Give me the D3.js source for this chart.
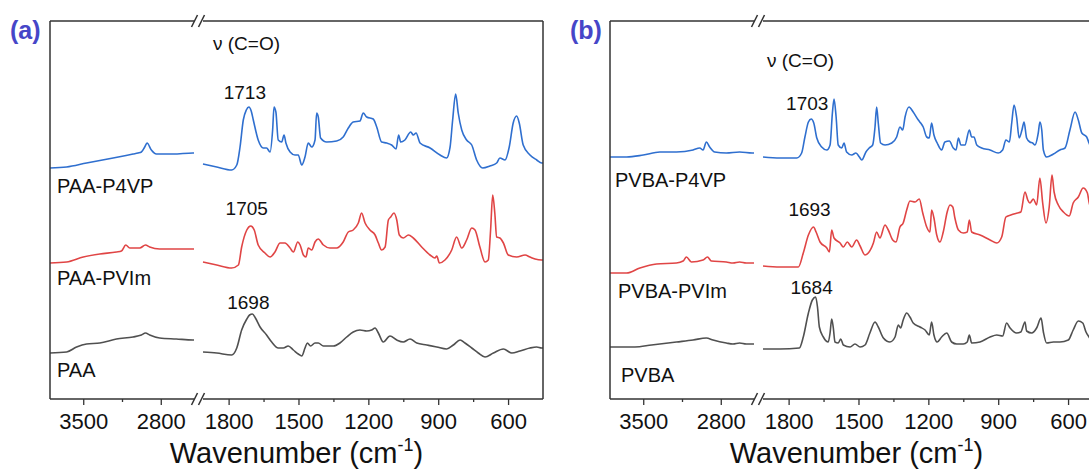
<!DOCTYPE html>
<html>
<head>
<meta charset="utf-8">
<script src="https://cdn.jsdelivr.net/npm/d3@7"></script>
<style>
  html, body { margin: 0; padding: 0; background: #fff; }
  svg { display: block; font-family: "Liberation Sans", Arial, sans-serif; }
</style>
</head>
<body>
<svg id="chart" width="1089" height="471"></svg>
<script>
// ---- axis ticks (cm^-1) ----
const highTicks = [3500, 2800];
const highMinor = [3150];
const lowTicks = [1800, 1500, 1200, 900, 600];
const lowMinor = [1650, 1350, 1050, 750];

// ---- panel (a): poly(acrylic acid) blends, absorbance (a.u., offset) ----
const namesA = ["PAA-P4VP", "PAA-PVIm", "PAA"];
const nameWnA = [3737, 3737, 3737];
const nameVA = [2.06, 1.14, 0.22];
const peakWnA = [1713, 1705, 1698];
const peakLabelVA = [3.00, 1.84, 0.90];

const paaP4vp = [
  [3800, 2.31], [3650, 2.32], [3470, 2.36], [3230, 2.41], [3050, 2.45], [3005, 2.46], [2975, 2.47],
  [2945, 2.52], [2924, 2.56], [2885, 2.49], [2840, 2.45], [2690, 2.45], [2510, 2.46], [2500, 2.46],
  [1910, 2.35], [1851, 2.32], [1787, 2.29], [1765, 2.34], [1751, 2.52], [1737, 2.79], [1724, 2.89],
  [1713, 2.92], [1703, 2.88], [1694, 2.79], [1673, 2.59], [1651, 2.51], [1637, 2.51], [1622, 2.47],
  [1611, 2.69], [1605, 2.92], [1597, 2.87], [1587, 2.59], [1572, 2.57], [1562, 2.64], [1554, 2.56],
  [1536, 2.47], [1515, 2.44], [1501, 2.44], [1486, 2.34], [1472, 2.42], [1458, 2.56], [1443, 2.52],
  [1429, 2.59], [1422, 2.86], [1415, 2.82], [1405, 2.61], [1379, 2.57], [1336, 2.58], [1308, 2.62],
  [1286, 2.71], [1265, 2.77], [1236, 2.78], [1222, 2.86], [1207, 2.82], [1179, 2.80], [1164, 2.72],
  [1143, 2.57], [1121, 2.56], [1100, 2.54], [1081, 2.50], [1070, 2.64], [1061, 2.57], [1043, 2.59],
  [1018, 2.67], [1007, 2.64], [995, 2.66], [978, 2.56], [935, 2.51], [892, 2.44], [864, 2.41],
  [849, 2.52], [838, 2.79], [825, 3.05], [814, 2.86], [799, 2.69], [778, 2.59], [756, 2.54],
  [735, 2.39], [709, 2.31], [678, 2.33], [649, 2.36], [635, 2.41], [613, 2.39], [595, 2.52],
  [578, 2.76], [563, 2.83], [552, 2.76], [535, 2.54], [506, 2.44], [477, 2.39], [456, 2.36], [450, 2.36]
];

const paaPvim = [
  [3800, 1.36], [3650, 1.37], [3500, 1.42], [3350, 1.45], [3200, 1.47], [3155, 1.48], [3116, 1.54],
  [3080, 1.51], [2990, 1.51], [2938, 1.54], [2900, 1.52], [2810, 1.50], [2660, 1.50], [2510, 1.50], [2500, 1.50],
  [1910, 1.37], [1851, 1.34], [1787, 1.31], [1758, 1.34], [1744, 1.52], [1722, 1.69], [1705, 1.73],
  [1690, 1.69], [1673, 1.54], [1644, 1.46], [1622, 1.42], [1601, 1.47], [1579, 1.56], [1558, 1.56],
  [1536, 1.51], [1522, 1.47], [1503, 1.57], [1493, 1.54], [1479, 1.44], [1468, 1.42], [1458, 1.51],
  [1443, 1.49], [1429, 1.57], [1415, 1.60], [1393, 1.54], [1365, 1.51], [1336, 1.51], [1308, 1.57],
  [1286, 1.67], [1265, 1.69], [1243, 1.76], [1229, 1.86], [1214, 1.76], [1193, 1.69], [1171, 1.64],
  [1157, 1.56], [1143, 1.49], [1128, 1.52], [1114, 1.79], [1104, 1.82], [1090, 1.86], [1078, 1.79],
  [1067, 1.64], [1050, 1.61], [1028, 1.64], [1007, 1.61], [971, 1.52], [935, 1.44], [914, 1.41],
  [906, 1.43], [895, 1.36], [871, 1.39], [842, 1.49], [821, 1.62], [799, 1.51], [778, 1.59],
  [756, 1.71], [742, 1.69], [721, 1.52], [699, 1.37], [685, 1.39], [675, 1.69], [666, 2.04],
  [657, 1.86], [649, 1.62], [635, 1.61], [620, 1.56], [599, 1.44], [563, 1.42], [527, 1.44],
  [506, 1.42], [484, 1.40], [456, 1.39], [450, 1.39]
];

const paa = [
  [3800, 0.46], [3650, 0.47], [3560, 0.52], [3470, 0.55], [3350, 0.56], [3200, 0.60], [3050, 0.62],
  [2975, 0.64], [2938, 0.66], [2900, 0.64], [2810, 0.61], [2660, 0.60], [2510, 0.59], [2500, 0.59],
  [1910, 0.47], [1851, 0.46], [1787, 0.44], [1765, 0.51], [1744, 0.69], [1722, 0.80], [1710, 0.84],
  [1698, 0.85], [1685, 0.81], [1665, 0.72], [1637, 0.64], [1615, 0.57], [1587, 0.51], [1565, 0.51],
  [1544, 0.53], [1522, 0.49], [1501, 0.45], [1486, 0.43], [1472, 0.51], [1462, 0.56], [1448, 0.53],
  [1429, 0.56], [1415, 0.56], [1393, 0.53], [1350, 0.53], [1322, 0.56], [1293, 0.62], [1265, 0.67],
  [1236, 0.69], [1207, 0.68], [1186, 0.69], [1171, 0.71], [1157, 0.66], [1136, 0.57], [1107, 0.63],
  [1078, 0.59], [1050, 0.57], [1021, 0.60], [992, 0.56], [949, 0.54], [906, 0.52], [864, 0.50],
  [835, 0.54], [806, 0.59], [785, 0.56], [756, 0.51], [728, 0.46], [699, 0.42], [663, 0.46],
  [620, 0.50], [584, 0.46], [549, 0.48], [506, 0.51], [477, 0.52], [456, 0.51], [450, 0.51]
];

// ---- panel (b): poly(vinylbenzoic acid) blends ----
const namesB = ["PVBA-P4VP", "PVBA-PVIm", "PVBA"];
const nameWnB = [3755, 3728, 3701];
const nameVB = [2.12, 1.01, 0.17];
const peakWnB = [1703, 1693, 1684];
const peakLabelVB = [2.89, 1.83, 1.05];

const pvbaP4vp = [
  [3800, 2.42], [3650, 2.42], [3500, 2.44], [3350, 2.47], [3200, 2.47], [3050, 2.49], [2990, 2.51],
  [2960, 2.49], [2930, 2.57], [2900, 2.52], [2855, 2.47], [2750, 2.46], [2630, 2.47], [2516, 2.46], [2500, 2.46],
  [1910, 2.42], [1837, 2.41], [1765, 2.41], [1744, 2.46], [1730, 2.62], [1715, 2.77], [1703, 2.80],
  [1692, 2.76], [1679, 2.61], [1658, 2.52], [1636, 2.49], [1622, 2.54], [1612, 2.86], [1605, 3.00],
  [1596, 2.82], [1587, 2.54], [1572, 2.51], [1562, 2.56], [1551, 2.47], [1529, 2.44], [1511, 2.46],
  [1496, 2.42], [1486, 2.39], [1468, 2.47], [1454, 2.51], [1439, 2.54], [1429, 2.72], [1422, 2.92],
  [1415, 2.76], [1405, 2.56], [1386, 2.54], [1357, 2.56], [1336, 2.62], [1322, 2.72], [1310, 2.69],
  [1300, 2.82], [1283, 2.92], [1265, 2.87], [1243, 2.79], [1233, 2.76], [1222, 2.72], [1207, 2.62],
  [1196, 2.61], [1186, 2.76], [1176, 2.64], [1162, 2.56], [1143, 2.49], [1129, 2.57], [1110, 2.58],
  [1093, 2.51], [1081, 2.49], [1071, 2.61], [1060, 2.54], [1043, 2.54], [1024, 2.69], [1014, 2.62],
  [1004, 2.62], [992, 2.54], [971, 2.51], [935, 2.49], [900, 2.46], [881, 2.49], [867, 2.59],
  [852, 2.57], [842, 2.76], [832, 2.94], [821, 2.82], [810, 2.61], [798, 2.69], [789, 2.77],
  [778, 2.61], [764, 2.57], [752, 2.56], [742, 2.54], [728, 2.66], [721, 2.77], [713, 2.69],
  [706, 2.49], [692, 2.42], [663, 2.45], [635, 2.49], [613, 2.51], [592, 2.69], [570, 2.87],
  [556, 2.79], [541, 2.66], [520, 2.62], [510, 2.56], [495, 2.48], [470, 2.44], [450, 2.43]
];

const pvbaPvim = [
  [3800, 1.26], [3650, 1.26], [3530, 1.31], [3380, 1.35], [3200, 1.36], [3140, 1.38], [3110, 1.42],
  [3065, 1.37], [2960, 1.39], [2920, 1.42], [2885, 1.38], [2750, 1.37], [2690, 1.36], [2630, 1.37],
  [2570, 1.36], [2510, 1.36], [2500, 1.36],
  [1910, 1.33], [1837, 1.32], [1758, 1.32], [1737, 1.46], [1715, 1.64], [1693, 1.72], [1682, 1.67],
  [1665, 1.57], [1636, 1.51], [1625, 1.47], [1615, 1.69], [1605, 1.61], [1579, 1.56], [1565, 1.52],
  [1548, 1.57], [1529, 1.52], [1508, 1.59], [1493, 1.53], [1472, 1.44], [1458, 1.46], [1436, 1.56],
  [1422, 1.67], [1408, 1.61], [1386, 1.74], [1372, 1.69], [1353, 1.59], [1339, 1.57], [1322, 1.72],
  [1308, 1.76], [1293, 1.89], [1279, 1.98], [1257, 1.97], [1239, 2.00], [1224, 1.86], [1207, 1.72],
  [1193, 1.67], [1186, 1.89], [1176, 1.81], [1164, 1.64], [1150, 1.57], [1136, 1.67], [1119, 1.87],
  [1107, 1.94], [1095, 1.92], [1086, 1.81], [1071, 1.69], [1050, 1.66], [1033, 1.67], [1024, 1.79],
  [1014, 1.67], [978, 1.64], [935, 1.59], [906, 1.56], [885, 1.62], [867, 1.82], [846, 1.84],
  [818, 1.86], [803, 1.87], [785, 2.07], [773, 1.99], [764, 1.96], [749, 2.00], [735, 1.94],
  [721, 2.21], [709, 1.96], [695, 1.76], [681, 1.92], [669, 2.24], [660, 2.07], [642, 1.94],
  [620, 1.87], [595, 1.83], [578, 1.96], [556, 2.02], [535, 2.11], [517, 2.06], [510, 1.97],
  [490, 1.85], [470, 1.75], [450, 1.70]
];

const pvba = [
  [3800, 0.52], [3575, 0.52], [3425, 0.54], [3200, 0.57], [3050, 0.59], [2930, 0.61], [2870, 0.59],
  [2750, 0.56], [2690, 0.55], [2630, 0.56], [2570, 0.55], [2510, 0.55], [2500, 0.55],
  [1910, 0.50], [1837, 0.50], [1754, 0.51], [1737, 0.62], [1715, 0.86], [1698, 0.99], [1684, 1.02],
  [1676, 0.92], [1668, 0.72], [1651, 0.62], [1630, 0.57], [1622, 0.66], [1615, 0.80], [1608, 0.71],
  [1601, 0.57], [1587, 0.56], [1576, 0.60], [1565, 0.54], [1536, 0.52], [1515, 0.55], [1493, 0.52],
  [1472, 0.54], [1451, 0.66], [1429, 0.77], [1415, 0.72], [1393, 0.61], [1365, 0.57], [1343, 0.62],
  [1329, 0.74], [1319, 0.71], [1308, 0.79], [1293, 0.86], [1279, 0.82], [1265, 0.76], [1236, 0.72],
  [1214, 0.69], [1196, 0.64], [1186, 0.77], [1176, 0.64], [1162, 0.57], [1143, 0.62], [1121, 0.66],
  [1100, 0.57], [1078, 0.55], [1050, 0.55], [1033, 0.57], [1024, 0.64], [1014, 0.56], [978, 0.57],
  [935, 0.62], [906, 0.64], [881, 0.63], [864, 0.76], [849, 0.71], [821, 0.66], [803, 0.67],
  [785, 0.77], [778, 0.68], [756, 0.66], [735, 0.71], [716, 0.81], [706, 0.67], [692, 0.56],
  [663, 0.57], [635, 0.57], [599, 0.59], [578, 0.69], [556, 0.78], [537, 0.76], [523, 0.67],
  [510, 0.62], [490, 0.56], [470, 0.55], [450, 0.55]
];

const seriesColors = ["#2f6fcf", "#e04545", "#505050"];

const panels = [
  { tag: "(a)", dx: 0, names: namesA, series: [paaP4vp, paaPvim, paa], nameWn: nameWnA,
    peakWn: peakWnA, peakLabelV: peakLabelVA, nameV: nameVA, modeLabelWn: 1867, modeLabelV: 3.49 },
  { tag: "(b)", dx: 560, names: namesB, series: [pvbaP4vp, pvbaPvim, pvba], nameWn: nameWnB,
    peakWn: peakWnB, peakLabelV: peakLabelVB, nameV: nameVB, modeLabelWn: 1893, modeLabelV: 3.32 }
];

const svg = d3.select("#chart");
svg.append("rect").attr("width", 1089).attr("height", 471).attr("fill", "#fff");

const plotTop = 21, plotBottom = 399;
const y = d3.scaleLinear().domain([0, 3.78]).range([plotBottom, plotTop]);
const axisColor = "#333";

panels.forEach(p => {
  const g = svg.append("g");
  const xHigh = d3.scaleLinear().domain([3800, 2500]).range([50 + p.dx, 194 + p.dx]);
  const xLow = d3.scaleLinear().domain([1910, 450]).range([203 + p.dx, 543 + p.dx]);

  // spectra, one path per axis segment
  const line = x => d3.line().x(d => x(d[0])).y(d => y(d[1])).curve(d3.curveMonotoneX);
  p.series.forEach((s, i) => {
    const hi = s.filter(d => d[0] >= 2500);
    const lo = s.filter(d => d[0] <= 1910);
    [[hi, xHigh], [lo, xLow]].forEach(([pts, x]) => {
      g.append("path").datum(pts)
        .attr("d", line(x))
        .attr("fill", "none")
        .attr("stroke", seriesColors[i])
        .attr("stroke-width", 1.6)
        .attr("stroke-linejoin", "round");
    });
  });

  // frame with axis break
  const fr = g.append("g").attr("stroke", axisColor).attr("stroke-width", 1.5).attr("fill", "none");
  const xl = xHigh.range()[0], xb1 = xHigh.range()[1], xb2 = xLow.range()[0], xr = xLow.range()[1];
  fr.append("line").attr("x1", xl).attr("x2", xl).attr("y1", plotTop).attr("y2", plotBottom);
  fr.append("line").attr("x1", xr).attr("x2", xr).attr("y1", plotTop).attr("y2", plotBottom);
  [plotTop, plotBottom].forEach(yy => {
    fr.append("line").attr("x1", xl).attr("x2", xb1).attr("y1", yy).attr("y2", yy);
    fr.append("line").attr("x1", xb2).attr("x2", xr).attr("y1", yy).attr("y2", yy);
    [xb1, xb2 - 2].forEach(cx => {
      fr.append("line")
        .attr("x1", cx - 2.5).attr("y1", yy + 6)
        .attr("x2", cx + 3.5).attr("y2", yy - 6);
    });
  });

  // bottom axis ticks and labels
  const axisG = (x, vals, size, labels) => {
    const ax = d3.axisBottom(x).tickValues(vals).tickSize(size).tickPadding(8)
      .tickFormat(labels ? d3.format("d") : "");
    const a = g.append("g").attr("transform", `translate(0,${plotBottom})`).call(ax);
    a.select(".domain").remove();
    a.selectAll(".tick line").attr("stroke", axisColor).attr("stroke-width", 1.3);
    a.selectAll(".tick text").attr("fill", "#111").attr("font-size", 22)
      .attr("font-family", "'Liberation Sans', Arial, sans-serif");
  };
  axisG(xHigh, highTicks, 6, true);
  axisG(xHigh, highMinor, 3, false);
  axisG(xLow, lowTicks, 6, true);
  axisG(xLow, lowMinor, 3, false);

  // axis title
  const title = g.append("text")
    .attr("x", (xl + xr) / 2).attr("y", 463)
    .attr("text-anchor", "middle").attr("font-size", 29).attr("fill", "#111");
  title.append("tspan").text("Wavenumber (cm");
  title.append("tspan").text("-1").attr("font-size", 18).attr("dy", -12);
  title.append("tspan").text(")").attr("dy", 12);

  // panel tag
  g.append("text").text(p.tag)
    .attr("x", xl - 40).attr("y", 39)
    .attr("font-size", 25).attr("font-weight", "bold")
    .attr("fill", "#4646c8");

  // carbonyl stretch note
  g.append("text").text("\u03BD (C=O)")
    .attr("x", xLow(p.modeLabelWn)).attr("y", y(p.modeLabelV))
    .attr("font-size", 19).attr("fill", "#111");

  // series names and peak positions
  p.names.forEach((n, i) => {
    g.append("text").text(n)
      .attr("x", xHigh(p.nameWn[i])).attr("y", y(p.nameV[i]))
      .attr("font-size", 20).attr("fill", "#111");
    g.append("text").text(p.peakWn[i])
      .attr("x", xLow(p.peakWn[i]) - 4).attr("y", y(p.peakLabelV[i]))
      .attr("text-anchor", "middle")
      .attr("font-size", 19).attr("fill", "#111");
  });
});
</script>
</body>
</html>
